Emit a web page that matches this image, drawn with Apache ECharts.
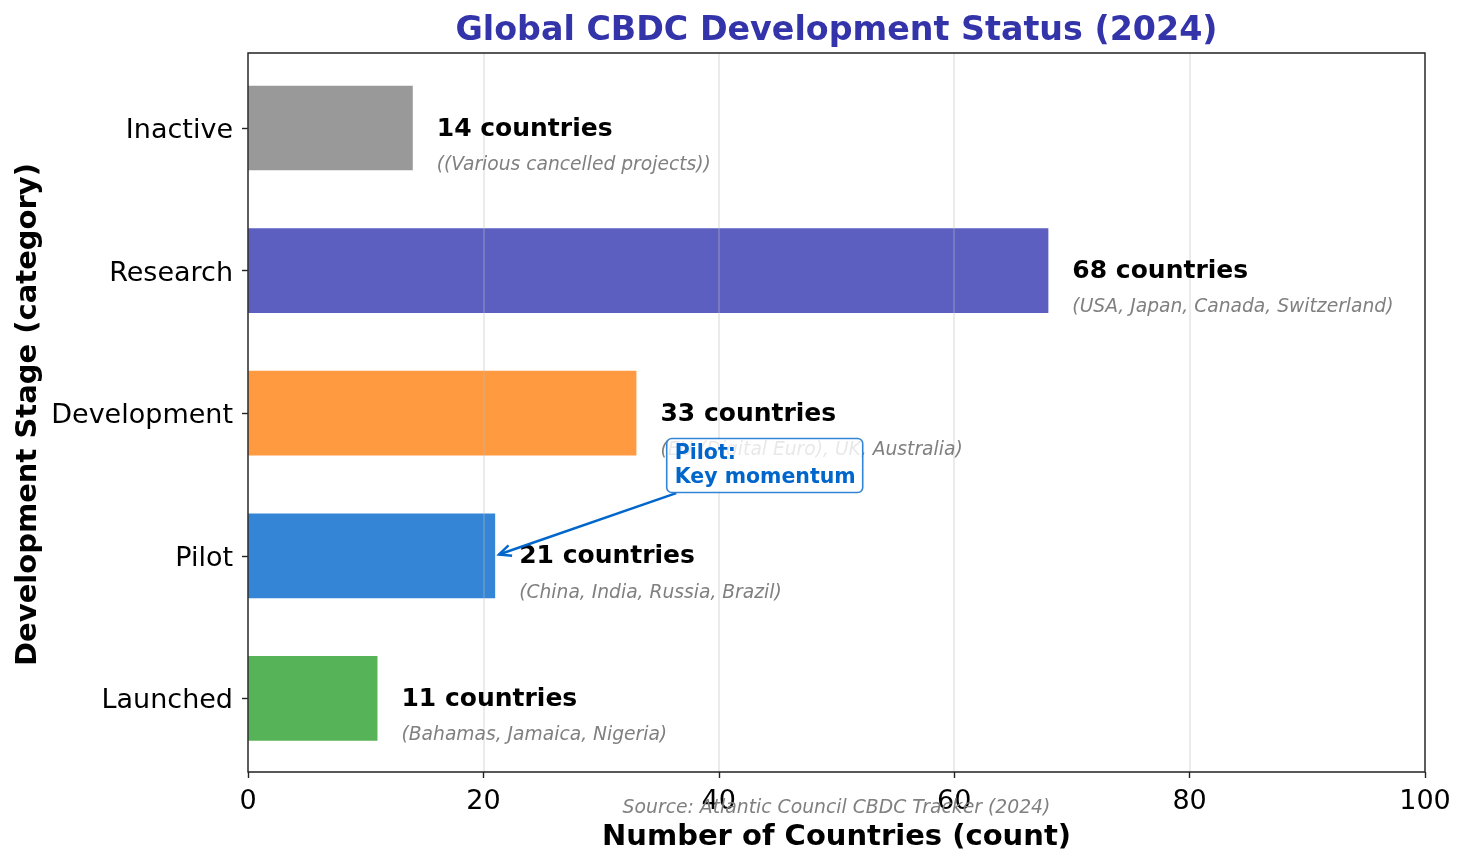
<!DOCTYPE html>
<html>
<head>
<meta charset="utf-8">
<script src="https://cdn.jsdelivr.net/npm/echarts@6/dist/echarts.min.js"></script>
<style>
html,body{margin:0;padding:0;background:#fff;}
#main{width:1467px;height:866px;}
</style>
</head>
<body>
<div id="main"></div>
<script>
// ---- data ----
const categories = ['Launched', 'Pilot', 'Development', 'Research', 'Inactive'];
const counts = [11, 21, 33, 68, 14];
const examples = [
  '(Bahamas, Jamaica, Nigeria)',
  '(China, India, Russia, Brazil)',
  '(EU (Digital Euro), UK, Australia)',
  '(USA, Japan, Canada, Switzerland)',
  '((Various cancelled projects))'
];
const barColors = ['#57b357', '#3585d6', '#ff9a40', '#5c5ec0', '#999999'];
const xTickValues = [0, 20, 40, 60, 80, 100];
const titleText = 'Global CBDC Development Status (2024)';
const xTitle = 'Number of Countries (count)';
const yTitle = 'Development Stage (category)';
const sourceText = 'Source: Atlantic Council CBDC Tracker (2024)';
const annotationText = 'Pilot:\nKey momentum';
const annotationTarget = { value: 21, category: 'Pilot' };
const annotationTextPos = { value: 36, categoryIndex: 1.5 };

const FONT = 'DejaVu Sans';
const chart = echarts.init(document.getElementById('main'), null, { renderer: 'canvas' });

const option = {
  backgroundColor: '#ffffff',
  animation: false,
  textStyle: { fontFamily: FONT },
  grid: [
    { left: 248, right: 42, top: 53, bottom: 94, show: true, borderColor: '#222', borderWidth: 1.4, backgroundColor: 'transparent', z: 6, containLabel: false },
    { left: 248, right: 42, top: 56.7, bottom: 96.3, show: false, containLabel: false }
  ],
  xAxis: [
    {
      gridIndex: 0, type: 'value', min: xTickValues[0], max: xTickValues[xTickValues.length - 1],
      interval: xTickValues[1] - xTickValues[0], z: 5,
      axisLine: { show: false },
      axisTick: { show: true, length: 6, lineStyle: { color: '#222', width: 1.4 } },
      axisLabel: { color: '#000', fontSize: 27, fontFamily: FONT, margin: 16 },
      splitLine: { show: true, lineStyle: { color: 'rgba(185,185,185,0.35)', width: 1.7 } }
    },
    { gridIndex: 1, type: 'value', min: xTickValues[0], max: xTickValues[xTickValues.length - 1], show: false }
  ],
  yAxis: [
    { gridIndex: 0, type: 'value', min: 0, max: 1, show: false },
    {
      gridIndex: 1, type: 'category', data: categories,
      axisLine: { show: false },
      axisTick: { show: true, alignWithLabel: true, length: 6, lineStyle: { color: '#222', width: 1.4 } },
      axisLabel: { show: false },
      splitLine: { show: false }
    }
  ],
  series: [
    {
      type: 'bar', xAxisIndex: 1, yAxisIndex: 1, z: 2,
      barWidth: '59.4%',
      data: counts.map((v, i) => ({ value: v, itemStyle: { color: barColors[i] } }))
    },
    {
      // category tick labels, placed through the category scale
      type: 'scatter', xAxisIndex: 1, yAxisIndex: 1, z: 10, symbolSize: 0, silent: true,
      itemStyle: { opacity: 1 },
      data: categories.map((c, i) => [0, i]),
      label: {
        show: true, position: 'left', distance: 15, offset: [0, 3],
        formatter: p => categories[p.dataIndex],
        color: '#000', fontSize: 27, fontFamily: FONT
      }
    },
    {
      type: 'scatter', xAxisIndex: 1, yAxisIndex: 1, z: 10, symbolSize: 0, silent: true,
      itemStyle: { opacity: 1 },
      data: counts.map((v, i) => [v, i]),
      label: {
        show: true, position: 'right', distance: 24, offset: [0, 1],
        formatter: p => p.value[0] + ' countries',
        color: '#000', fontSize: 25, fontWeight: 'bold', fontFamily: FONT
      }
    },
    {
      type: 'scatter', xAxisIndex: 1, yAxisIndex: 1, z: 10, symbolSize: 0, silent: true,
      itemStyle: { opacity: 1 },
      data: counts.map((v, i) => [v, i]),
      label: {
        show: true, position: 'right', distance: 24, offset: [0, 37],
        formatter: p => examples[p.dataIndex],
        color: '#808080', fontSize: 18.7, fontStyle: 'italic', fontFamily: FONT
      }
    }
  ]
};
chart.setOption(option);

// ---- annotations computed through the chart's own scales ----
const cx = chart.convertToPixel({ xAxisIndex: 0 }, 50);
const plotTop = chart.convertToPixel({ yAxisIndex: 0 }, 1);
const plotBottom = chart.convertToPixel({ yAxisIndex: 0 }, 0);
const plotMidY = (plotTop + plotBottom) / 2;

function catPix(value, catIdx) {
  const i0 = Math.floor(catIdx), f = catIdx - i0;
  const p0 = chart.convertToPixel({ gridIndex: 1 }, [value, i0]);
  if (f === 0) return p0;
  const p1 = chart.convertToPixel({ gridIndex: 1 }, [value, i0 + 1]);
  return [p0[0], p0[1] + f * (p1[1] - p0[1])];
}

const tipRaw = chart.convertToPixel({ gridIndex: 1 }, [annotationTarget.value, categories.indexOf(annotationTarget.category)]);
const anchor = catPix(annotationTextPos.value, annotationTextPos.categoryIndex);
const padX = 8, padY = 3, lineH = 24, annFont = 20.5;
const boxW = 196, boxH = 2 * lineH + 2 * padY;
const boxLeft = anchor[0] - 5;
const boxBottom = anchor[1] + 8;
const boxTop = boxBottom - boxH;
const boxCx = boxLeft + boxW / 2, boxCy = boxTop + boxH / 2;

// arrow from box edge to target
let dx = tipRaw[0] - boxCx, dy = tipRaw[1] - boxCy;
const t = ((boxBottom - boxCy)) / dy;
let tail = [boxCx + dx * t - 6, boxBottom];
let len = Math.hypot(tipRaw[0] - tail[0], tipRaw[1] - tail[1]);
let ux = (tipRaw[0] - tail[0]) / len, uy = (tipRaw[1] - tail[1]) / len;
const tip = [tipRaw[0] - ux * 4, tipRaw[1] - uy * 4];
tail = [tail[0] + ux * 2, tail[1] + uy * 2];
const HL = 12, HW = 5.5;
const nx = -uy, ny = ux;
const h1 = [tip[0] - ux * HL + nx * HW, tip[1] - uy * HL + ny * HW];
const h2 = [tip[0] - ux * HL - nx * HW, tip[1] - uy * HL - ny * HW];

chart.setOption({
  graphic: [
    {
      type: 'text', x: cx, y: 31, z: 100,
      style: { text: titleText, fill: '#3333aa', font: 'bold 33.3px "DejaVu Sans"', textAlign: 'center', textVerticalAlign: 'middle' }
    },
    {
      type: 'text', x: cx, y: 837, z: 100,
      style: { text: xTitle, fill: '#000', font: 'bold 29px "DejaVu Sans"', textAlign: 'center', textVerticalAlign: 'middle' }
    },
    {
      type: 'text', x: 28, y: plotMidY + 2, rotation: Math.PI / 2, z: 100,
      style: { text: yTitle, fill: '#000', font: 'bold 29px "DejaVu Sans"', textAlign: 'center', textVerticalAlign: 'middle' }
    },
    {
      type: 'text', x: cx, y: 808, z: 100,
      style: { text: sourceText, fill: '#808080', font: 'italic 18.8px "DejaVu Sans"', textAlign: 'center', textVerticalAlign: 'middle' }
    },
    {
      type: 'polyline', z: 100,
      shape: { points: [tail, tip] },
      style: { stroke: '#0066cc', lineWidth: 2.4, fill: null }
    },
    {
      type: 'polyline', z: 100,
      shape: { points: [h1, tip, h2] },
      style: { stroke: '#0066cc', lineWidth: 2.4, fill: null }
    },
    {
      type: 'rect', z: 100,
      shape: { x: boxLeft, y: boxTop, width: boxW, height: boxH, r: 5 },
      style: { fill: 'rgba(255,255,255,0.82)', stroke: '#3385d6', lineWidth: 1.6 }
    },
    {
      type: 'text', x: boxLeft + padX, y: boxTop + padY, z: 101,
      style: { text: annotationText, fill: '#0066cc', font: 'bold ' + annFont + 'px "DejaVu Sans"', lineHeight: lineH, textAlign: 'left', textVerticalAlign: 'top' }
    }
  ]
});
</script>
</body>
</html>
